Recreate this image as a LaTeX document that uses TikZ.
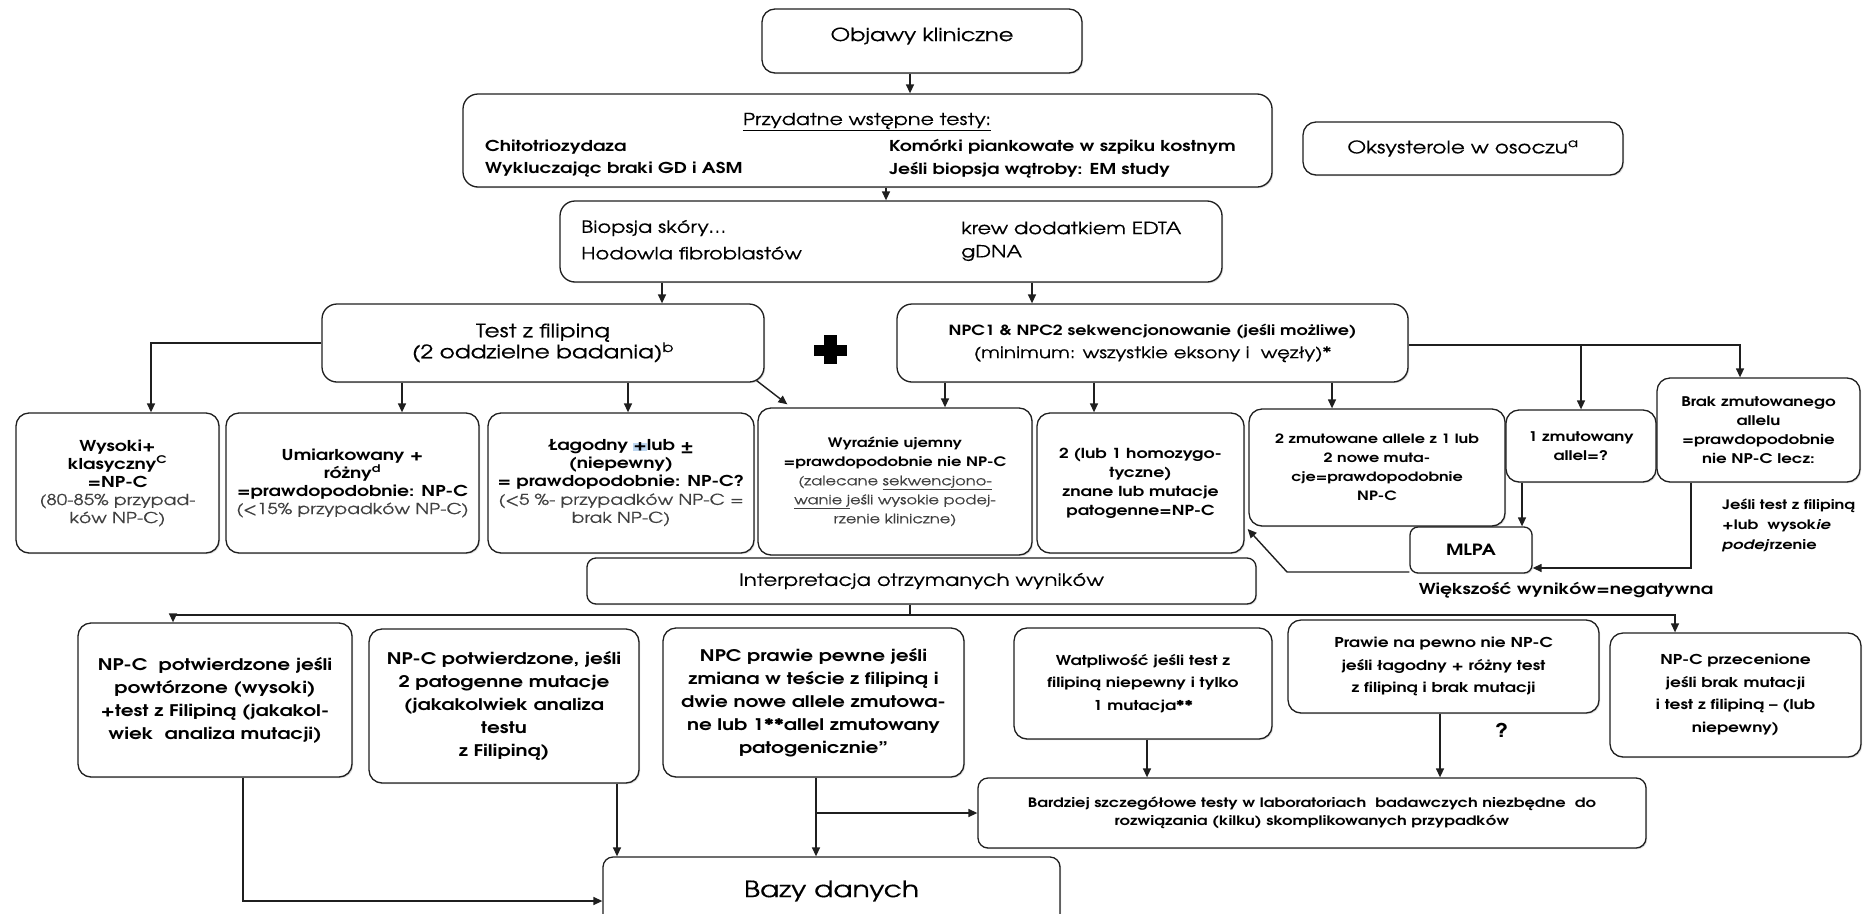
\documentclass[tikz,border=0pt]{standalone}
\usepackage{fontspec}
\setmainfont{texgyreadventor}[Extension=.otf, UprightFont=*-regular, BoldFont=*-bold, ItalicFont=*-italic, BoldItalicFont=*-bolditalic, FakeStretch=1.25, UprightFeatures={FakeBold=0.35}]
\usetikzlibrary{arrows.meta,shadows}
\definecolor{ln}{gray}{0.12}
\definecolor{hl}{RGB}{190,215,240}
\definecolor{lt}{gray}{0.25}
\newcommand{\lt}[1]{\textcolor{lt}{#1}}
\newcommand{\bx}[7][]{\node[box,#1,minimum width={(#5-#3)*1pt},minimum height={(#6-#4)*1pt}] (#2) at ({(#3+#5)/2},{(#4+#6)/2}) {#7};}
\tikzset{
  box/.style={draw=ln, line width=1.3pt, rounded corners=13pt, fill=white, align=center, inner sep=2pt,
    drop shadow={shadow xshift=1.2pt, shadow yshift=-1.2pt, opacity=0.3, fill=gray}},
  con/.style={draw=ln, line width=1.4pt},
  arr/.style={con, -{Triangle[length=9pt,width=8pt]}},
  txt/.style={inner sep=0pt, align=left},
  fobj/.style={font=\fontsize{18}{21}\selectfont},
  ftitle/.style={font=\fontsize{16.5}{19}\selectfont},
  flist/.style={font=\fontsize{15}{17}\selectfont\bfseries},
  fbio/.style={font=\fontsize{16.8}{19}\selectfont},
  fokl/.style={font=\fontsize{17.3}{20}\selectfont},
  ftest/.style={font=\fontsize{18.5}{21}\selectfont},
  fnpc/.style={font=\fontsize{14}{23}\selectfont},
  fsm/.style={font=\fontsize{15}{18}\selectfont},
  frow/.style={font=\fontsize{16}{23}\selectfont\bfseries},
  frowb/.style={font=\fontsize{13.6}{22.5}\selectfont\bfseries},
  finter/.style={font=\fontsize{17}{20}\selectfont},
  fbazy/.style={font=\fontsize{22.5}{26}\selectfont},
  fmlpa/.style={font=\fontsize{15.5}{20}\selectfont\bfseries},
  fnote/.style={font=\fontsize{13}{20}\selectfont\bfseries},
  fwiek/.style={font=\fontsize{15}{17}\selectfont\bfseries},
  fbard/.style={font=\fontsize{13}{18}\selectfont\bfseries},
}
\begin{document}
\begin{tikzpicture}[x=1pt,y=-1pt]
\useasboundingbox (0,0) rectangle (1868,913);
\clip (0,0) rectangle (1868,913);
\fill[white] (0,0) rectangle (1868,913);

% top boxes
\bx{objawy}{762}{9}{1082}{73}{}
\node[txt, fobj, anchor=center] (objt) at (922,36) {Objawy kliniczne};
\bx[rounded corners=15pt]{przyd}{463}{94}{1272}{187}{}
\node[txt, ftitle, anchor=center] (pt) at (867,122) {\underline{Przydatne wstępne testy:}};
\node[txt, flist, anchor=west] (p1) at (485,147) {Chitotriozydaza};
\node[txt, flist, anchor=west] (p2) at (485,170) {Wykluczając braki GD i ASM};
\node[txt, flist, anchor=west] (p3) at (889,147) {Komórki piankowate w szpiku kostnym};
\node[txt, flist, anchor=west] (p4) at (889,170) {Jeśli biopsja wątroby: EM study};
\bx[fokl]{oksy}{1303}{122}{1623}{175}{Oksysterole w osoczu\textsuperscript{a}}
\bx[rounded corners=15pt]{biop}{560}{201}{1222}{282}{}
\node[txt, fbio, anchor=west] (b1) at (581,228) {Biopsja skóry…};
\node[txt, fbio, anchor=west] (b2) at (581,253) {Hodowla fibroblastów};
\node[txt, fbio, anchor=west] (b3) at (961,228) {krew dodatkiem EDTA};
\node[txt, fbio, anchor=west] (b4) at (961,253) {gDNA};

% test level
\bx[ftest,rounded corners=15pt]{test}{322}{304}{764}{382}{Test z filipiną\\(2 oddzielne badania)\textsuperscript{b}}
\bx[fnpc,rounded corners=15pt]{npc}{897}{304}{1408}{382}{\textbf{NPC1 \& NPC2 sekwencjonowanie (jeśli możliwe)}\\{\fontsize{16}{23}\selectfont(minimum: wszystkie eksony i\ \ węzły)*}}
\fill[black] (814,345) rectangle (847,356);
\fill[black] (824,335) rectangle (837,364);

% result row
\bx[fsm]{wys}{16}{413}{219}{553}{\textbf{Wysoki+}\\\textbf{klasyczny\textsuperscript{C}}\\\textbf{=NP-C}\\\lt{(80-85\% przypad-}\\\lt{ków NP-C)}}
\bx[fsm]{umi}{226}{413}{479}{553}{\textbf{Umiarkowany +}\\\textbf{różny\textsuperscript{d}}\\\textbf{=prawdopodobnie: NP-C}\\\lt{(<15\% przypadków NP-C)}}
\bx[fsm]{lag}{488}{413}{754}{553}{\textbf{Łagodny {\setlength{\fboxsep}{0pt}\colorbox{hl}{+}}lub ±}\\\textbf{(niepewny)}\\\textbf{= prawdopodobnie: NP-C?}\\\lt{(<5 \%- przypadków NP-C =}\\\lt{brak NP-C)}}
\bx[fsm,font=\fontsize{13}{19}\selectfont]{wyr}{758}{408}{1032}{555}{\textbf{Wyraźnie ujemny}\\\textbf{=prawdopodobnie nie NP-C}\\\lt{(zalecane \underline{sekwencjono-}}\\\lt{\underline{wanie j}eśli wysokie podej-}\\\lt{rzenie kliniczne)}}
\bx[fsm,font=\fontsize{13.8}{19}\selectfont]{lub}{1037}{413}{1244}{553}{\textbf{2 (lub 1 homozygo-}\\\textbf{tyczne)}\\\textbf{znane lub mutacje}\\\textbf{patogenne=NP-C}}
\bx[fsm,font=\fontsize{12.8}{19}\selectfont]{zmut2}{1249}{409}{1505}{526}{\textbf{2 zmutowane allele z 1 lub}\\\textbf{2 nowe muta-}\\\textbf{cje=prawdopodobnie}\\\textbf{NP-C}}
\bx[fsm,font=\fontsize{13.3}{19}\selectfont]{zmut1}{1506}{410}{1656}{482}{\textbf{1 zmutowany}\\\textbf{allel=?}}
\bx[fsm,font=\fontsize{13.3}{19}\selectfont]{brak}{1657}{378}{1860}{482}{\textbf{Brak zmutowanego}\\\textbf{allelu}\\\textbf{=prawdopodobnie}\\\textbf{nie NP-C lecz:}}
\node[txt, fnote, anchor=north west] (note) at (1722,499) {Jeśli test z filipiną\\+lub\ \ wysok\textit{ie}\\\textit{podej}rzenie};
\bx[fmlpa,rounded corners=8pt]{mlpa}{1410}{527}{1532}{573}{MLPA}
\node[txt, fwiek, anchor=center] (wiek) at (1566,590) {Większość wyników=negatywna};

% interpretation
\bx[finter,rounded corners=9pt]{interp}{587}{558}{1256}{604}{Interpretacja otrzymanych wyników}

% final row
\bx[frow]{pot1}{78}{623}{352}{777}{NP-C\ \ potwierdzone jeśli\\powtórzone (wysoki)\\+test z Filipiną (jakakol-\\wiek\ \ analiza mutacji)}
\bx[frow]{pot2}{369}{629}{639}{783}{NP-C potwierdzone, jeśli\\2 patogenne mutacje\\(jakakolwiek analiza\\testu\\z Filipiną)}
\bx[frow]{pewne}{663}{628}{964}{777}{NPC prawie pewne jeśli\\zmiana w teście z filipiną i\\dwie nowe allele zmutowa-\\ne lub 1**allel zmutowany\\patogenicznie"}
\bx[frowb]{watp}{1014}{628}{1272}{739}{Watpliwość jeśli test z\\filipiną niepewny i tylko\\1 mutacja**}
\bx[frowb]{prawie}{1288}{620}{1599}{713}{Prawie na pewno nie NP-C\\jeśli łagodny + różny test\\z filipiną i brak mutacji}
\bx[frowb]{przec}{1610}{633}{1861}{757}{NP-C przecenione\\jeśli brak mutacji\\i test z filipiną – (lub\\niepewny)}
\node[txt, font=\fontsize{19}{22}\selectfont\bfseries, anchor=center] (q) at (1502,730) {?};
\bx[fbard,rounded corners=10pt]{bardz}{978}{778}{1646}{848}{Bardziej szczegółowe testy w laboratoriach\ \ badawczych niezbędne\ \ do\\rozwiązania (kilku) skomplikowanych przypadków}
\bx[fbazy,rounded corners=10pt]{bazy}{603}{857}{1060}{925}{Bazy danych}

% connectors
\draw[arr] ([xshift=-12pt]objawy.south) -- ([xshift=-12pt]objawy.south |- przyd.north);
\draw[arr] ([xshift=-5pt]biop.north |- przyd.south) -- ([xshift=-5pt]biop.north);
\draw[arr] ([xshift=-229pt]biop.south) -- ([xshift=-229pt]biop.south |- test.north);
\draw[arr] ([xshift=141pt]biop.south) -- ([xshift=141pt]biop.south |- npc.north);
\draw[arr] (test.west) -| ([xshift=33.5pt]wys.north);
\draw[arr] ([xshift=49.5pt]umi.north |- test.south) -- ([xshift=49.5pt]umi.north);
\draw[arr] ([xshift=7pt]lag.north |- test.south) -- ([xshift=7pt]lag.north);
\draw[arr] ([xshift=-8pt,yshift=2pt]test.south east) -- ([xshift=30pt,yshift=3pt]wyr.north west);
\draw[arr] ([xshift=50pt]wyr.north |- npc.south) -- ([xshift=50pt]wyr.north);
\draw[arr] ([xshift=-46.5pt]lub.north |- npc.south) -- ([xshift=-46.5pt]lub.north);
\draw[arr] ([xshift=-45pt]zmut2.north |- npc.south) -- ([xshift=-45pt]zmut2.north);
\coordinate (npcR) at ([yshift=-2pt]npc.east);
\draw[arr] (npcR) -| ([xshift=-18.5pt]brak.north);
\draw[arr] (zmut1.north |- npcR) -- (zmut1.north);
\draw[arr] ([xshift=51pt]mlpa.north |- zmut1.south) -- ([xshift=51pt]mlpa.north);
\draw[arr] ([xshift=-67.5pt]brak.south) |- ([yshift=-18pt]mlpa.east);
\coordinate (mlbend) at (1287,572);
\draw[arr] ([yshift=-22pt]mlpa.west) -- (mlbend) -- ([xshift=3pt,yshift=-46pt]lub.east);
\coordinate (split) at (910,615);
\draw[con] ([xshift=-11.5pt]interp.south) -- (split);
\draw[arr] (split) -| ([xshift=-42pt]pot1.north);
\draw[arr] (split) -| ([xshift=-60.5pt]przec.north);
\draw[arr] ([xshift=28pt]pot1.south) |- ([yshift=-10pt]bazy.west);
\draw[arr] ([xshift=113pt]pot2.south) -- ([xshift=113pt]pot2.south |- bazy.north);
\draw[arr] ([xshift=2.5pt]pewne.south) -- ([xshift=2.5pt]pewne.south |- bazy.north);
\draw[arr] ([xshift=2.5pt]pewne.south |- bardz.west) -- (bardz.west);
\draw[arr] ([xshift=4pt]watp.south) -- ([xshift=4pt]watp.south |- bardz.north);
\draw[arr] ([xshift=-3.5pt]prawie.south) -- ([xshift=-3.5pt]prawie.south |- bardz.north);
\end{tikzpicture}
\end{document}
